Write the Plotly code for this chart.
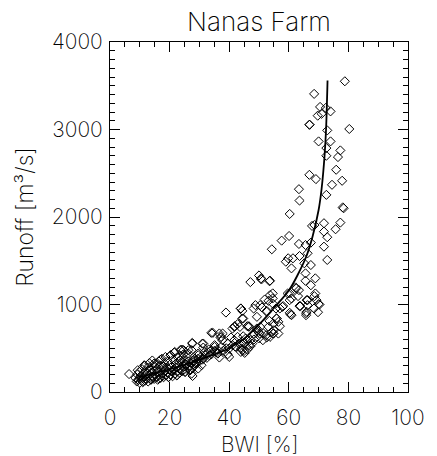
import plotly.graph_objects as go

# scatter data: BWI [%] and runoff [m3/s]
bwi = [
    6.4, 8.5, 9.0, 9.2, 9.5, 9.8, 10.0, 10.2, 10.5, 10.8, 11.0, 11.2, 11.5, 11.6, 11.8,
    12.0, 12.2, 12.4, 12.6, 12.8, 13.0, 13.2, 13.4, 13.6, 13.8, 14.0, 14.2, 14.4, 14.6, 14.8,
    15.0, 15.2, 15.4, 15.6, 15.8, 16.0, 16.2, 16.4, 16.6, 16.8, 17.0, 17.2, 17.4, 17.6, 17.8,
    18.0, 18.2, 18.4, 18.6, 18.8, 19.0, 19.2, 19.4, 19.6, 19.8, 20.0, 20.2, 20.4, 20.6, 20.8,
    21.0, 21.2, 21.4, 21.6, 21.8, 22.0, 22.2, 22.4, 22.6, 22.8, 23.0, 23.2, 23.4, 23.6, 23.8,
    24.0, 24.2, 24.4, 24.6, 24.8, 25.0, 25.2, 25.5, 25.8, 26.0, 26.3, 26.6, 27.0, 27.2, 27.6,
    28.0, 28.4, 29.0, 29.5, 30.0, 30.5, 31.0, 32.0, 32.5, 33.0, 34.0, 35.0, 36.0, 38.0, 39.0,
    42.0, 9.9, 11.0, 13.7, 16.4, 19.7, 22.5, 25.2, 9.3, 11.5, 14.8, 17.0, 20.3, 21.7,
    27.4, 27.7, 26.9, 28.5, 25.2, 23.6, 24.1, 26.3, 26.3, 27.6, 31.0, 31.3, 33.1, 34.0,
    31.8, 29.6, 31.3, 28.5, 28.0, 30.7, 29.6, 24.7, 27.4, 29.6, 33.4, 36.7, 39.5, 44.4,
    27.6, 31.3, 35.1, 37.3, 42.2, 45.0, 46.6, 48.3, 34.0, 36.7, 37.3, 40.6, 42.8, 46.1,
    41.7, 43.9, 44.4, 44.4, 38.9, 41.9, 43.6, 41.1, 46.6, 50.4, 49.3, 48.2, 49.8, 50.2,
    52.4, 54.3, 54.8, 56.5, 51.3, 53.7, 55.0, 44.7, 45.5, 47.1, 44.4, 43.3, 41.1, 41.7,
    37.8, 34.5, 37.1, 37.7, 39.5, 40.0, 35.1, 36.0, 36.2, 40.0, 45.0, 45.2, 46.1, 44.1,
    47.1, 47.7, 42.8, 45.0, 43.9, 46.1, 49.9, 52.6, 51.5, 54.8, 53.2, 54.8, 46.6, 49.3,
    55.9, 56.5, 49.3, 52.6, 57.0, 60.6, 58.1, 48.8, 50.4, 43.9, 53.2, 54.6, 53.7, 54.6,
    60.3, 63.1, 66.3, 63.6, 65.8, 68.5, 47.1, 50.0, 50.8, 53.5, 48.2, 51.0, 52.6, 55.7,
    55.9, 57.0, 53.5, 49.3, 44.7, 59.6, 68.6, 51.9, 60.9, 54.6, 69.3, 70.0, 60.3, 57.9,
    63.9, 66.0, 66.3, 70.3, 69.8, 66.0, 65.8, 60.3, 60.9, 62.3, 63.4, 68.9, 65.6, 67.4,
    62.5, 50.7, 53.7, 68.9, 65.6, 65.2, 67.4, 60.9, 59.8, 59.0, 61.4, 63.6, 66.3, 72.9,
    57.6, 63.4, 65.6, 71.8, 54.3, 67.4, 60.1, 71.8, 72.9, 75.7, 77.3, 71.8, 67.8, 68.6,
    60.3, 78.4, 78.1, 63.6, 72.6, 63.4, 74.5, 77.9, 69.1, 66.9, 75.9, 72.6, 76.5, 77.3,
    72.6, 74.0, 70.0, 72.9, 80.3, 66.9, 69.7, 71.0, 72.4, 74.0, 70.5, 68.5, 78.8, 67.0,
]
runoff = [
    205, 160, 120, 200, 140, 230, 105, 180, 150, 260, 115, 200, 170, 300, 130,
    240, 150, 210, 280, 120, 190, 330, 160, 250, 140, 220, 360, 180, 290, 150,
    240, 200, 320, 170, 270, 140, 230, 350, 190, 300, 160, 250, 380, 210, 290,
    170, 330, 240, 400, 190, 280, 220, 350, 170, 260, 310, 200, 420, 240, 290,
    180, 370, 250, 450, 210, 320, 280, 190, 400, 240, 350, 300, 220, 480, 260,
    380, 330, 240, 430, 290, 360, 230, 310, 400, 270, 350, 300, 250, 330, 280,
    360, 300, 330, 380, 350, 400, 370, 420, 390, 450, 430, 470, 450, 470, 500,
    520, 153, 115, 142, 153, 172, 191, 229, 249, 306, 325, 371, 420, 458,
    210, 183, 248, 324, 324, 363, 485, 439, 477, 561, 553, 508, 485, 477,
    458, 420, 382, 382, 344, 306, 268, 478, 478, 440, 420, 394, 432, 478,
    554, 554, 535, 515, 515, 554, 535, 600, 676, 669, 630, 623, 775, 752,
    745, 954, 927, 840, 908, 752, 744, 725, 752, 744, 706, 668, 687, 668,
    649, 687, 668, 668, 592, 630, 706, 637, 611, 592, 573, 553, 534, 592,
    668, 676, 622, 592, 553, 496, 515, 485, 439, 401, 469, 447, 485, 496,
    523, 553, 630, 558, 458, 592, 612, 623, 669, 669, 745, 783, 745, 726,
    841, 802, 859, 916, 955, 887, 982, 993, 993, 955, 1042, 1070, 1108, 1127,
    1127, 1096, 1050, 982, 901, 955, 1256, 1332, 1286, 1267, 954, 966, 927, 954,
    840, 752, 813, 706, 840, 1126, 1095, 1057, 1069, 1011, 1050, 1004, 1050, 973,
    981, 1050, 992, 1000, 912, 916, 878, 905, 878, 1195, 1164, 1126, 1271, 1220,
    1184, 1299, 1272, 1299, 1356, 1471, 1451, 1413, 1528, 1489, 1528, 1554, 1585, 1509,
    1730, 1692, 1680, 1661, 1631, 1707, 1783, 1833, 1769, 1860, 1936, 1929, 1898, 1908,
    2035, 2100, 2110, 2188, 2253, 2318, 2368, 2414, 2433, 2482, 2540, 2700, 2685, 2761,
    2788, 2864, 2864, 2990, 3006, 3055, 3158, 3180, 3246, 3207, 3258, 3407, 3551, 3055,
]

# fitted curve
fit_bwi = [10, 15, 20, 25, 30, 35, 40, 45, 50, 55, 60, 63, 66, 68, 70, 71, 72, 72.5, 73]
fit_runoff = [170, 215, 260, 310, 370, 430, 500, 610, 770, 960, 1160, 1340, 1560, 1780, 2080, 2320, 2700, 3000, 3560]

FONT = "Inter"
W = 200

fig = go.Figure()
fig.add_trace(go.Scatter(
    x=bwi, y=runoff, mode="markers",
    marker=dict(symbol="diamond-open", size=7, color="black", line=dict(width=1, color="black")),
    showlegend=False, hoverinfo="skip",
))
fig.add_trace(go.Scatter(
    x=fit_bwi, y=fit_runoff, mode="lines",
    line=dict(color="black", width=1.8, shape="spline"),
    showlegend=False, hoverinfo="skip",
))

axis_common = dict(
    showgrid=False, zeroline=False, showline=True, linecolor="black", linewidth=1,
    mirror="ticks", ticks="inside", tickcolor="black", tickwidth=1, ticklen=10,
    tickfont=dict(family=FONT, weight=W, size=21, color="black"),
)
fig.update_xaxes(range=[0, 100], dtick=20, tick0=0,
                 minor=dict(dtick=5, ticks="inside", ticklen=5, tickcolor="black", showgrid=False),
                 ticklabelstandoff=7, **axis_common)
fig.update_yaxes(range=[0, 4000], dtick=1000, tick0=0,
                 minor=dict(dtick=100, ticks="inside", ticklen=5, tickcolor="black", showgrid=False),
                 ticklabelstandoff=2, **axis_common)

fig.update_layout(
    width=437, height=456,
    margin=dict(l=110, r=23, t=42, b=64),
    paper_bgcolor="white", plot_bgcolor="white",
    title=dict(text="Nanas Farm", x=0.5, xref="paper", y=1 - 22 / 456, yref="container",
               xanchor="center", yanchor="middle",
               font=dict(family=FONT, weight=W, size=26, color="black")),
    annotations=[
        dict(text="BWI [%]", x=0.5, y=-0.151, xref="paper", yref="paper",
             showarrow=False, xanchor="center", yanchor="middle",
             font=dict(family=FONT, weight=W, size=21, color="black")),
        dict(text="Runoff [m³/s]", x=-0.286, y=0.5, xref="paper", yref="paper",
             showarrow=False, xanchor="center", yanchor="middle", textangle=-90,
             font=dict(family=FONT, weight=W, size=23, color="black")),
    ],
)

fig.write_html("out.html")
